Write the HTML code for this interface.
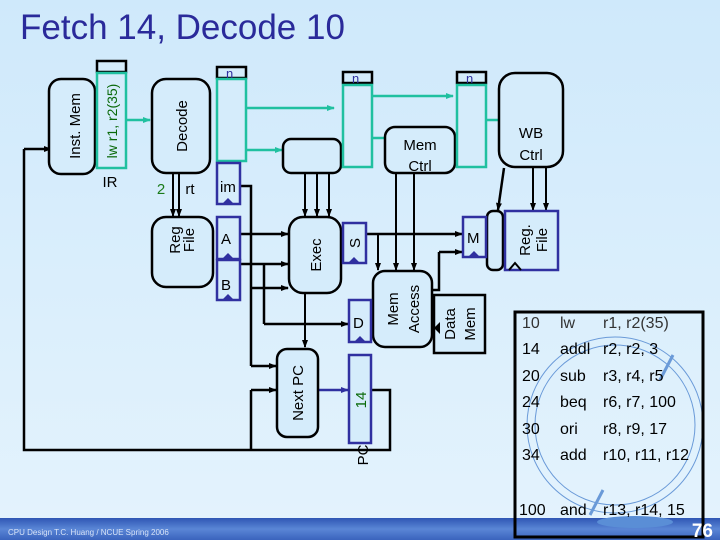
<!DOCTYPE html>
<html><head><meta charset="utf-8"><style>
html,body{margin:0;padding:0;width:720px;height:540px;overflow:hidden}
svg{display:block}
text{font-family:"Liberation Sans",sans-serif}
</style></head><body>
<svg width="720" height="540" viewBox="0 0 720 540" xmlns="http://www.w3.org/2000/svg">
<defs>
<linearGradient id="bg" x1="0" y1="0" x2="0" y2="1"><stop offset="0" stop-color="#cfe9fb"/><stop offset="1" stop-color="#e4f3fd"/></linearGradient>
<linearGradient id="ft" x1="0" y1="0" x2="0" y2="1"><stop offset="0" stop-color="#2f56b4"/><stop offset="0.5" stop-color="#5a86d6"/><stop offset="1" stop-color="#3a63bd"/></linearGradient>
<marker id="a" markerWidth="8" markerHeight="8" refX="7" refY="4" orient="auto" markerUnits="userSpaceOnUse"><path d="M0,1 L8,4 L0,7z" fill="#000"/></marker>
<marker id="g" markerWidth="8" markerHeight="8" refX="7" refY="4" orient="auto" markerUnits="userSpaceOnUse"><path d="M0,1 L8,4 L0,7z" fill="#20c0a0"/></marker>
<marker id="b" markerWidth="8" markerHeight="8" refX="7" refY="4" orient="auto" markerUnits="userSpaceOnUse"><path d="M0,1 L8,4 L0,7z" fill="#3030a0"/></marker>
</defs>
<rect width="720" height="540" fill="url(#bg)"/>
<text x="20" y="39" font-size="35" fill="#2a2a9a">Fetch 14, Decode 10</text>

<g fill="none" stroke="#000" stroke-width="3">
<polyline points="372,390 390,390 390,450 24,450 24,149" stroke-width="2.5"/>
<line x1="24" y1="149" x2="51" y2="149" marker-end="url(#a)" stroke-width="2.5"/>
<polyline points="251,450 251,390" stroke-width="2.5"/>
<line x1="251" y1="390" x2="276" y2="390" marker-end="url(#a)" stroke-width="2.5"/>
<polyline points="240,186 251,186 251,366" stroke-width="2.5"/>
<line x1="251" y1="366" x2="276" y2="366" marker-end="url(#a)" stroke-width="2.5"/>
<line x1="251" y1="288" x2="288" y2="288" marker-end="url(#a)" stroke-width="2.5"/>
<line x1="240" y1="234" x2="288" y2="234" marker-end="url(#a)" stroke-width="2.5"/>
<line x1="240" y1="264" x2="288" y2="264" marker-end="url(#a)" stroke-width="2.5"/>
<polyline points="264,264 264,324" stroke-width="2.5"/>
<line x1="264" y1="324" x2="348" y2="324" marker-end="url(#a)" stroke-width="2.5"/>
<line x1="173" y1="173" x2="173" y2="216" marker-end="url(#a)" stroke-width="2"/>
<line x1="179" y1="173" x2="179" y2="216" marker-end="url(#a)" stroke-width="2"/>
<line x1="305" y1="173" x2="305" y2="216" marker-end="url(#a)" stroke-width="2"/>
<line x1="317" y1="173" x2="317" y2="216" marker-end="url(#a)" stroke-width="2"/>
<line x1="329" y1="173" x2="329" y2="216" marker-end="url(#a)" stroke-width="2"/>
<line x1="305" y1="293" x2="305" y2="347" marker-end="url(#a)" stroke-width="2"/>
<line x1="366" y1="234" x2="462" y2="234" marker-end="url(#a)" stroke-width="2.5"/>
<line x1="378" y1="234" x2="378" y2="270" marker-end="url(#a)" stroke-width="2"/>
<line x1="396" y1="173" x2="396" y2="270" marker-end="url(#a)" stroke-width="2"/>
<line x1="414" y1="173" x2="414" y2="270" marker-end="url(#a)" stroke-width="2"/>
<polyline points="432,290 439,290 439,252" stroke-width="2.5"/>
<line x1="439" y1="252" x2="462" y2="252" marker-end="url(#a)" stroke-width="2.5"/>
<line x1="504" y1="168" x2="498" y2="210" marker-end="url(#a)" stroke-width="2.5"/>
<line x1="533" y1="167" x2="533" y2="210" marker-end="url(#a)" stroke-width="2"/>
<line x1="546" y1="167" x2="546" y2="210" marker-end="url(#a)" stroke-width="2"/>
</g>
<g stroke="#20c0a0" stroke-width="2.5" fill="none">
<line x1="126" y1="120" x2="150" y2="120" marker-end="url(#g)"/>
<line x1="246" y1="108" x2="334" y2="108" marker-end="url(#g)"/>
<line x1="246" y1="150" x2="282" y2="150" marker-end="url(#g)"/>
<line x1="372" y1="96" x2="453" y2="96" marker-end="url(#g)"/>
<line x1="372" y1="138" x2="397" y2="138" marker-end="url(#g)"/>
<line x1="486" y1="120" x2="510" y2="120" marker-end="url(#g)"/>
</g>
<line x1="318" y1="390" x2="348" y2="390" stroke="#3030a0" stroke-width="2.5" marker-end="url(#b)"/>

<g fill="#d5ecfb" stroke="#000" stroke-width="2.5">
<rect x="49" y="79" width="46" height="95" rx="12"/>
<rect x="152" y="79" width="58" height="94" rx="14"/>
<rect x="283" y="139" width="58" height="34" rx="8"/>
<rect x="152" y="217" width="61" height="70" rx="14"/>
<rect x="289" y="217" width="52" height="76" rx="14"/>
<rect x="385" y="127" width="70" height="46" rx="10"/>
<rect x="499" y="73" width="64" height="94" rx="16"/>
<rect x="373" y="271" width="59" height="76" rx="12"/>
<rect x="277" y="349" width="41" height="88" rx="10"/>
<rect x="487" y="211" width="16" height="59" rx="6"/>
<rect x="434" y="295" width="51" height="58" rx="0"/>
</g>
<g stroke-width="2.5">
<rect x="97" y="61" width="29" height="11" fill="#d5ecfb" stroke="#000"/>
<rect x="97" y="73" width="29" height="95" fill="#d5ecfb" stroke="#20c0a0"/>
<rect x="217" y="67" width="29" height="11" fill="#d5ecfb" stroke="#000"/>
<rect x="217" y="79" width="29" height="82" fill="#d5ecfb" stroke="#20c0a0"/>
<rect x="343" y="72" width="29" height="11" fill="#d5ecfb" stroke="#000"/>
<rect x="343" y="85" width="29" height="82" fill="#d5ecfb" stroke="#20c0a0"/>
<rect x="457" y="72" width="29" height="11" fill="#d5ecfb" stroke="#000"/>
<rect x="457" y="85" width="29" height="82" fill="#d5ecfb" stroke="#20c0a0"/>
</g>
<g fill="#3030a0" font-size="13"><text x="226" y="78">n</text><text x="352" y="83">n</text><text x="466" y="83">n</text></g>
<g fill="#d5ecfb" stroke="#3030a0" stroke-width="2.5">
<rect x="217" y="163" width="23" height="41"/>
<rect x="217" y="217" width="23" height="42"/>
<rect x="217" y="260" width="23" height="40"/>
<rect x="343" y="223" width="23" height="40"/>
<rect x="463" y="217" width="23" height="40"/>
<rect x="349" y="300" width="22" height="42"/>
<rect x="349" y="355" width="22" height="88"/>
<rect x="505" y="211" width="53" height="59"/>
</g>
<g fill="#3030a0">
<path d="M222,204 L228,198 L234,204z"/><path d="M222,259 L228,253 L234,259z"/><path d="M222,300 L228,294 L234,300z"/>
<path d="M348,263 L354,257 L360,263z"/><path d="M468,257 L474,251 L480,257z"/><path d="M354,342 L360,336 L366,342z"/>
</g>
<path d="M509,270 L515,263 L521,270" fill="none" stroke="#000" stroke-width="2"/>
<path d="M434,328 L440,322 L440,334z" fill="#000"/>

<g font-size="15" fill="#000">
<text transform="translate(80,126) rotate(-90)" text-anchor="middle">Inst. Mem</text>
<text transform="translate(187,126) rotate(-90)" text-anchor="middle">Decode</text>
<text transform="translate(180,240) rotate(-90)" text-anchor="middle">Reg</text>
<text transform="translate(194,240) rotate(-90)" text-anchor="middle">File</text>
<text transform="translate(321,255) rotate(-90)" text-anchor="middle">Exec</text>
<text transform="translate(303,393) rotate(-90)" text-anchor="middle">Next PC</text>
<text transform="translate(398,309) rotate(-90)" text-anchor="middle">Mem</text>
<text transform="translate(419,309) rotate(-90)" text-anchor="middle">Access</text>
<text transform="translate(455,324) rotate(-90)" text-anchor="middle">Data</text>
<text transform="translate(475,324) rotate(-90)" text-anchor="middle">Mem</text>
<text transform="translate(530,240) rotate(-90)" text-anchor="middle">Reg.</text>
<text transform="translate(547,240) rotate(-90)" text-anchor="middle">File</text>
<text transform="translate(368,455) rotate(-90)" text-anchor="middle">PC</text>
<text x="420" y="150" text-anchor="middle">Mem</text>
<text x="420" y="171" text-anchor="middle">Ctrl</text>
<text x="531" y="138" text-anchor="middle">WB</text>
<text x="531" y="160" text-anchor="middle">Ctrl</text>
<text x="110" y="187" text-anchor="middle">IR</text>
<text x="190" y="194" text-anchor="middle">rt</text>
<text x="220" y="192">im</text>
<text x="221" y="244">A</text>
<text x="221" y="290">B</text>
<text transform="translate(360,243) rotate(-90)" text-anchor="middle">S</text>
<text x="467" y="243">M</text>
<text x="353" y="328">D</text>
</g>
<text x="161" y="194" font-size="15" fill="#1a7a1a" text-anchor="middle">2</text>
<text transform="translate(117,121) rotate(-90)" text-anchor="middle" font-size="14" fill="#0a6a0a">lw r1, r2(35)</text>
<text transform="translate(366,400) rotate(-90)" text-anchor="middle" font-size="15" fill="#0a6a0a">14</text>

<rect x="0" y="518" width="720" height="22" fill="url(#ft)"/>
<text x="8" y="535" font-size="8" fill="#d8e4f8">CPU Design   T.C. Huang / NCUE   Spring 2006</text>
<g fill="none" stroke="#6a9ad8" stroke-width="1">
<circle cx="615" cy="425" r="80"/><circle cx="615" cy="425" r="88"/>
</g>
<line x1="673" y1="355" x2="660" y2="380" stroke="#6a9ad8" stroke-width="3"/>
<line x1="603" y1="490" x2="590" y2="515" stroke="#6a9ad8" stroke-width="3"/>
<ellipse cx="635" cy="522" rx="38" ry="6" fill="#5a8ed6"/>
<rect x="515" y="312" width="188" height="225" fill="none" stroke="#000" stroke-width="3"/>
<g font-size="16" fill="#000">
<g fill="#333"><text x="522" y="328">10</text><text x="560" y="328">lw</text><text x="603" y="328">r1, r2(35)</text></g>
<text x="522" y="354">14</text><text x="560" y="354">addl</text><text x="603" y="354">r2, r2, 3</text>
<text x="522" y="381">20</text><text x="560" y="381">sub</text><text x="603" y="381">r3, r4, r5</text>
<text x="522" y="407">24</text><text x="560" y="407">beq</text><text x="603" y="407">r6, r7, 100</text>
<text x="522" y="434">30</text><text x="560" y="434">ori</text><text x="603" y="434">r8, r9, 17</text>
<text x="522" y="460">34</text><text x="560" y="460">add</text><text x="603" y="460">r10, r11, r12</text>
<text x="519" y="515">100</text><text x="560" y="515">and</text><text x="603" y="515">r13, r14, 15</text>
</g>
<text x="713" y="537" font-size="19" font-weight="bold" fill="#fff" text-anchor="end">76</text>
</svg>
</body></html>
